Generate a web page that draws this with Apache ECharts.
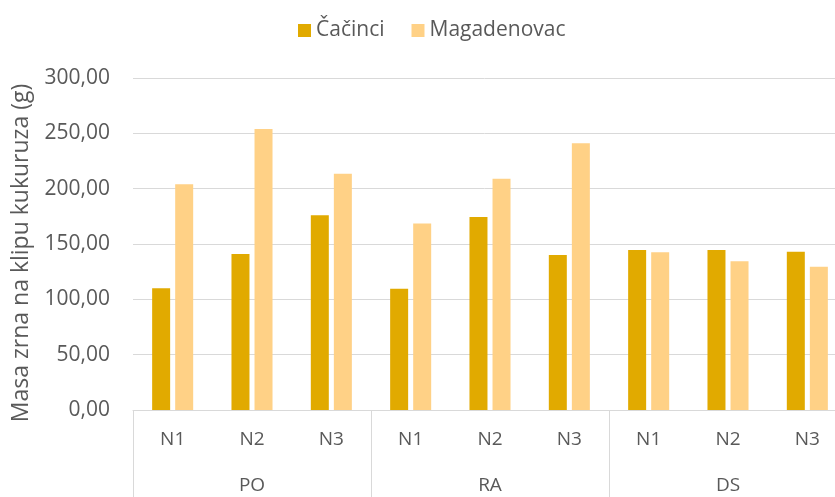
<!DOCTYPE html>
<html>
<head>
<meta charset="utf-8">
<script src="https://cdn.jsdelivr.net/npm/echarts@6/dist/echarts.min.js"></script>
<style>html,body{margin:0;padding:0;background:#fff}#c{width:835px;height:497px}</style>
</head>
<body>
<div id="c"></div>
<script>
var subCategories = ['N1','N2','N3','N1','N2','N3','N1','N2','N3'];
var groups = ['PO','RA','DS'];
var seriesNames = ['Čačinci','Magadenovac'];
var cacinci = [110, 141, 176, 109.5, 174.5, 140, 144.5, 144.5, 143];
var magadenovac = [204, 254, 213.5, 168.5, 209, 241, 142.5, 134.5, 129.5];
var yTicks = {min: 0, max: 300, interval: 50};
var yName = 'Masa zrna na klipu kukuruza (g)';

var font = '"Open Sans", "Noto Sans", sans-serif';
var txt = '#595959';
var grey = '#D9D9D9';
var chart = echarts.init(document.getElementById('c'));
chart.setOption({
  animation: false,
  textStyle: {fontFamily: font},
  legend: {
    top: 15, left: 293, icon: 'rect', itemWidth: 13, itemHeight: 13, itemGap: 27,
    textStyle: {fontSize: 21, color: txt, fontFamily: font},
    data: seriesNames
  },
  grid: {left: 133, width: 714, top: 78, height: 332, containLabel: false, outerBoundsMode: 'none'},
  xAxis: [{
    type: 'category', data: subCategories, position: 'bottom',
    axisLine: {show: true, lineStyle: {color: grey, width: 1}},
    axisTick: {show: false},
    axisLabel: {interval: 0, margin: 20, fontSize: 19, color: txt, fontFamily: font}
  }, {
    type: 'category', data: groups, position: 'bottom',
    axisLine: {show: false},
    axisTick: {show: true, interval: 0, length: 90, lineStyle: {color: grey, width: 1}},
    axisLabel: {interval: 0, margin: 66, fontSize: 19, color: txt, fontFamily: font}
  }],
  yAxis: {
    type: 'value', min: yTicks.min, max: yTicks.max, interval: yTicks.interval,
    name: yName, nameLocation: 'middle', nameGap: 100,
    nameTextStyle: {fontSize: 23, color: txt, fontFamily: font, padding: [0, 18, 0, 0]},
    axisLine: {show: false}, axisTick: {show: false},
    axisLabel: {fontSize: 21, color: txt, margin: 23, fontFamily: font,
      formatter: function (v) { return v.toFixed(2).replace('.', ','); }},
    splitLine: {lineStyle: {color: grey, width: 1}}
  },
  series: [{
    name: seriesNames[0], type: 'bar', data: cacinci, xAxisIndex: 0,
    barWidth: 18, barGap: '28%', itemStyle: {color: '#E1AA00'}
  }, {
    name: seriesNames[1], type: 'bar', data: magadenovac, xAxisIndex: 0,
    barWidth: 18, barGap: '28%', itemStyle: {color: '#FFD186'}
  }]
});
</script>
</body>
</html>
